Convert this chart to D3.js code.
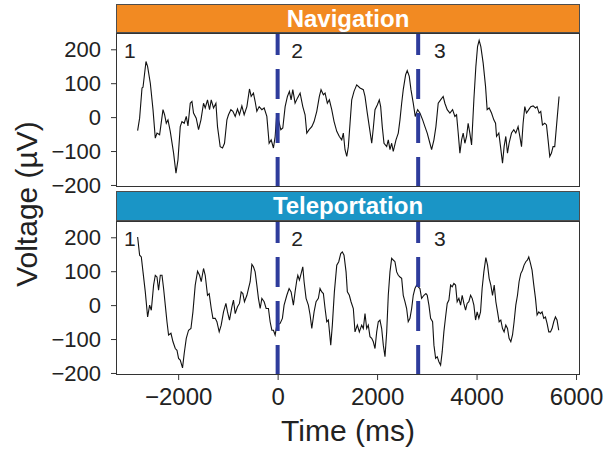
<!DOCTYPE html>
<html>
<head>
<meta charset="utf-8">
<script src="https://cdn.jsdelivr.net/npm/d3@7"></script>
<style>
  body { margin: 0; background: #fff; }
  text { font-family: "Liberation Sans", Arial, sans-serif; }
</style>
</head>
<body>
<div id="chart"></div>
<script>
// traced EEG traces (time in ms, voltage in µV)
var navTime = [-2815,-2775,-2727,-2707,-2647,-2614,-2560,-2506,-2460,-2426,-2373,-2305,-2273,-2239,-2205,-2159,-2092,-2044,-2004,-1958,-1924,-1878,-1837,-1803,-1757,-1723,-1691,-1637,-1590,-1542,-1490,-1456,-1410,-1369,-1335,-1289,-1241,-1209,-1155,-1108,-1068,-1020,-988,-940,-900,-853,-807,-767,-719,-673,-618,-566,-532,-486,-452,-418,-371,-317,-271,-217,-171,-130,-84,-50,-16,64,104,151,197,237,271,305,351,398,452,506,552,586,633,687,733,787,839,873,920,954,1000,1040,1088,1135,1189,1241,1289,1321,1355,1390,1422,1456,1490,1536,1590,1657,1723,1757,1803,1843,1892,1924,1958,2004,2044,2072,2104,2139,2193,2225,2259,2293,2325,2380,2426,2460,2494,2526,2574,2606,2647,2681,2727,2767,2815,2861,2916,2962,3008,3062,3096,3143,3183,3229,3277,3329,3363,3410,3464,3518,3564,3598,3631,3665,3699,3731,3765,3799,3831,3865,3900,3946,3986,4020,4052,4086,4133,4181,4213,4253,4301,4347,4382,4402,4448,4482,4522,4554,4588,4622,4654,4703,4749,4789,4835,4870,4904,4936,4970,5004,5050,5090,5137,5185,5217,5257,5291,5325,5371,5406,5438,5472,5506,5538,5572,5618,5659];
var navVolt = [-40,-3,86,88,164,149,100,22,-62,-47,-52,22,7,-18,-8,-42,-106,-165,-126,-28,-13,-18,2,-26,41,46,12,-3,-37,-8,41,27,51,22,51,27,41,-28,-87,-91,-77,-8,7,22,17,2,24,7,33,7,31,83,61,71,46,17,31,22,27,2,-77,-67,-91,-57,12,-37,-32,31,61,76,51,81,41,56,71,31,7,-47,-37,-28,-13,17,61,81,66,71,41,51,22,-13,-42,-57,-67,-47,-96,-116,-87,-18,51,76,95,86,81,61,12,-28,-77,-32,22,36,51,31,-28,-77,-87,-67,-96,-77,-101,-67,-47,-8,41,81,125,137,120,81,41,2,22,12,-8,-28,-47,-77,-96,-67,-28,41,51,61,41,22,12,22,2,7,-47,-106,-67,-47,-77,-57,-18,-47,-82,51,149,208,226,208,159,90,22,27,12,-8,-18,-57,-47,-87,-136,-87,-57,-106,-77,-47,-37,-47,-28,-57,-87,-18,31,12,22,31,33,27,31,12,17,-23,-18,-23,-67,-116,-106,-87,-87,-8,61];

var telTime = [-2815,-2775,-2741,-2707,-2661,-2614,-2574,-2540,-2494,-2460,-2426,-2394,-2359,-2325,-2293,-2259,-2225,-2193,-2145,-2104,-2058,-2024,-1992,-1958,-1912,-1878,-1837,-1791,-1743,-1703,-1657,-1610,-1570,-1536,-1490,-1456,-1410,-1376,-1335,-1301,-1255,-1221,-1175,-1135,-1088,-1040,-1008,-968,-920,-888,-853,-807,-767,-733,-699,-667,-618,-586,-552,-518,-486,-452,-418,-386,-351,-317,-271,-231,-185,-151,-116,-84,-50,-16,50,96,130,185,231,271,317,351,386,406,438,472,506,532,572,618,653,687,733,773,819,853,888,920,954,988,1020,1068,1100,1141,1189,1229,1269,1301,1335,1376,1402,1442,1476,1522,1556,1603,1643,1690,1723,1757,1791,1823,1857,1892,1924,1958,1992,2024,2058,2092,2125,2159,2193,2225,2259,2293,2325,2359,2394,2426,2460,2494,2526,2560,2594,2626,2661,2695,2727,2761,2795,2861,2895,2942,2982,3008,3042,3076,3116,3143,3177,3209,3243,3277,3309,3343,3377,3410,3444,3478,3510,3544,3578,3610,3645,3679,3711,3745,3779,3811,3845,3880,3912,3946,3980,4012,4046,4080,4112,4147,4187,4221,4253,4287,4321,4355,4388,4422,4454,4488,4522,4554,4588,4622,4654,4689,4723,4755,4789,4823,4855,4889,4923,4955,4990,5024,5050,5084,5116,5151,5185,5217,5251,5285,5317,5351,5385,5418,5452,5486,5518,5552,5586,5618,5652];
var telVolt = [201,147,142,98,39,-35,0,-15,59,88,83,44,88,88,49,0,-49,-88,-83,-108,-128,-133,-157,-162,-185,-142,-98,-74,-69,-20,59,100,88,69,108,88,29,34,-10,-39,-39,-49,-79,-59,-20,5,-20,-44,-5,15,-25,-5,5,39,34,10,29,49,69,120,113,98,59,20,-10,20,10,-10,-10,-49,-74,-74,-88,-59,-54,-39,0,29,49,39,0,39,74,88,74,93,113,69,20,0,-29,-69,-20,10,20,49,39,34,-10,-49,-44,-118,-59,39,118,128,152,157,147,98,39,29,10,-10,-79,-59,-79,-59,-69,-25,-69,-59,-93,-98,-108,-128,-79,-49,-44,-69,-118,-152,-79,29,98,138,133,128,98,88,83,79,29,10,-10,-49,-39,-10,29,49,59,49,20,29,34,29,0,-39,-49,-118,-157,-152,-167,-177,-138,-79,-35,5,15,59,54,64,59,10,20,0,29,5,-15,5,10,29,20,0,-44,-20,-39,-20,49,98,140,118,79,59,29,59,10,-20,-49,-44,-69,-79,-59,-69,-98,-108,-88,-49,0,29,69,93,103,118,128,133,142,123,103,59,20,-29,-20,-25,-20,-39,-35,-54,-79,-79,-69,-49,-35,-44,-74];

var panelNames = ["Navigation", "Teleportation"];
var stripColors = ["#F28A22", "#1A95C6"];
var eventTimes = [0, 2826];
var segmentLabels = ["1", "2", "3"];
var labelTimes = [-2970, 390, 3260];
var yTicks = [-200, -100, 0, 100, 200];
var xTicks = [-2000, 0, 2000, 4000, 6000];

var svg = d3.select("#chart").append("svg")
    .attr("width", 608)
    .attr("height", 452);

var left = 116, right = 580;
var panels = [
  {name: panelNames[0], color: stripColors[0], stripTop: 4, top: 33, bottom: 187, time: navTime, volt: navVolt},
  {name: panelNames[1], color: stripColors[1], stripTop: 191, top: 221, bottom: 375, time: telTime, volt: telVolt}
];

var x = d3.scaleLinear().domain([-3250, 6080]).range([left, right]);

panels.forEach(function(p, i) {
  var y = d3.scaleLinear().domain([-206, 248]).range([p.bottom, p.top]);
  var g = svg.append("g");

  g.append("clipPath").attr("id", "clip" + i)
    .append("rect")
    .attr("x", left).attr("y", p.top)
    .attr("width", right - left).attr("height", p.bottom - p.top);

  // strip
  g.append("rect")
    .attr("x", left + 0.5).attr("y", p.stripTop + 0.5)
    .attr("width", right - left - 1).attr("height", p.top - p.stripTop - 1)
    .attr("fill", p.color)
    .attr("stroke", "#4d4d4d")
    .attr("stroke-width", 1);

  g.append("text")
    .attr("x", (left + right) / 2)
    .attr("y", p.stripTop + 22.5)
    .attr("text-anchor", "middle")
    .attr("fill", "#fff")
    .style("font-weight", "bold")
    .style("font-size", "24px")
    .text(p.name);

  // trace
  var pts = p.time.map(function(t, k) { return [t, p.volt[k]]; });
  g.append("path")
    .datum(pts)
    .attr("clip-path", "url(#clip" + i + ")")
    .attr("fill", "none")
    .attr("stroke", "#111")
    .attr("stroke-width", 1.1)
    .attr("d", d3.line().x(function(d) { return x(d[0]); }).y(function(d) { return y(d[1]); }));

  // event lines
  g.selectAll(".ev")
    .data(eventTimes)
    .enter().append("line")
    .attr("clip-path", "url(#clip" + i + ")")
    .attr("x1", function(d) { return x(d); })
    .attr("x2", function(d) { return x(d); })
    .attr("y1", p.bottom)
    .attr("y2", p.top - 20)
    .attr("stroke", "#2E3C9C")
    .attr("stroke-width", 4)
    .attr("stroke-dasharray", "30,14");

  // segment labels
  g.selectAll(".lab")
    .data(segmentLabels)
    .enter().append("text")
    .attr("x", function(d, k) { return x(labelTimes[k]); })
    .attr("y", y(195))
    .attr("text-anchor", "middle")
    .attr("dominant-baseline", "central")
    .attr("fill", "#222")
    .style("font-size", "21px")
    .text(function(d) { return d; });

  // panel border
  g.append("rect")
    .attr("x", left + 0.5).attr("y", p.top + 0.5)
    .attr("width", right - left - 1).attr("height", p.bottom - p.top - 1)
    .attr("fill", "none")
    .attr("stroke", "#333")
    .attr("stroke-width", 1);

  // y axis
  var ya = g.append("g")
    .attr("transform", "translate(" + left + ",0)")
    .call(d3.axisLeft(y).tickValues(yTicks).tickSize(5).tickPadding(10).tickFormat(d3.format("d")));
  ya.select(".domain").remove();
  ya.selectAll("line").attr("stroke", "#333");
  ya.selectAll("text").attr("fill", "#222").style("font-size", "22px");
});

// x axis
var xa = svg.append("g")
  .attr("transform", "translate(0," + 375 + ")")
  .call(d3.axisBottom(x).tickValues(xTicks).tickSize(5).tickPadding(8).tickFormat(d3.format("d")));
xa.select(".domain").remove();
xa.selectAll("line").attr("stroke", "#333");
xa.selectAll("text").attr("fill", "#222").style("font-size", "24px");

svg.append("text")
  .attr("x", (left + right) / 2)
  .attr("y", 441)
  .attr("text-anchor", "middle")
  .attr("fill", "#222")
  .style("font-size", "30px")
  .text("Time (ms)");

svg.append("text")
  .attr("transform", "translate(37," + 204 + ") rotate(-90)")
  .attr("text-anchor", "middle")
  .attr("fill", "#222")
  .style("font-size", "30px")
  .text("Voltage (µV)");
</script>
</body>
</html>
